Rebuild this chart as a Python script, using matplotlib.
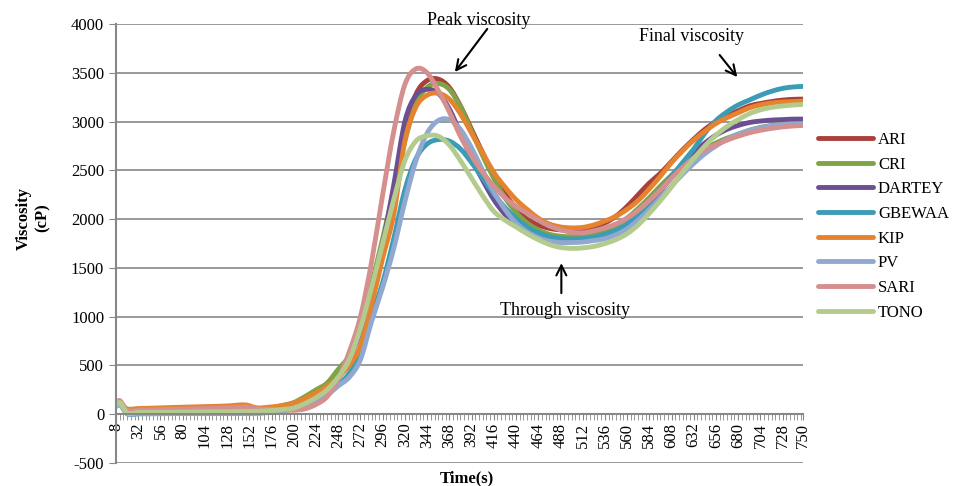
import numpy as np
import matplotlib
matplotlib.use('Agg')
import matplotlib.pyplot as plt
from matplotlib.path import Path
from matplotlib.patches import PathPatch
from matplotlib.lines import Line2D

# time axis (s) and viscosity readings (cP) per variety
times = [8, 12, 20, 32, 56, 80, 104, 128, 148, 160, 176, 188, 200, 212, 224, 236,
         248, 260, 272, 284, 296, 308, 320, 332, 344, 356, 368, 380, 392, 404, 416,
         428, 440, 452, 464, 476, 488, 500, 512, 524, 536, 548, 560, 572, 584, 596,
         608, 620, 632, 644, 656, 668, 680, 692, 704, 716, 728, 740, 750]

ari = [100, 120, 45, 50, 52, 55, 58, 62, 68, 60, 62, 75, 100, 150, 220, 300,
       420, 600, 880, 1280, 1700, 2300, 2900, 3280, 3420, 3435, 3350, 3160, 2920, 2680, 2450,
       2260, 2110, 2000, 1940, 1905, 1890, 1890, 1900, 1920, 1960, 2030, 2130, 2250, 2370, 2470,
       2590, 2710, 2820, 2920, 3000, 3060, 3110, 3160, 3185, 3205, 3220, 3228, 3230]

cri = [80, 110, 25, 28, 32, 36, 40, 45, 50, 52, 65, 90, 120, 180, 250, 320,
       460, 600, 850, 1330, 1800, 2300, 2800, 3180, 3350, 3390, 3330, 3150, 2900, 2650, 2420,
       2220, 2070, 1960, 1890, 1845, 1825, 1820, 1830, 1850, 1880, 1930, 2010, 2110, 2220, 2340,
       2450, 2560, 2650, 2720, 2780, 2830, 2870, 2910, 2940, 2960, 2975, 2985, 2990]

dartey = [90, 120, 10, 10, 12, 14, 16, 18, 20, 22, 30, 45, 70, 110, 170, 250,
          370, 560, 860, 1300, 1750, 2350, 3000, 3270, 3330, 3290, 3130, 2880, 2620, 2400, 2200,
          2050, 1940, 1860, 1810, 1780, 1770, 1770, 1775, 1790, 1820, 1870, 1940, 2040, 2160, 2290,
          2430, 2560, 2680, 2780, 2860, 2920, 2960, 2990, 3005, 3015, 3020, 3025, 3025]

gbewaa = [85, 110, 5, 5, 6, 7, 8, 9, 10, 12, 20, 35, 60, 100, 150, 210,
          300, 420, 620, 1000, 1350, 1800, 2300, 2620, 2770, 2815, 2800, 2720, 2580, 2420, 2260,
          2120, 2010, 1920, 1860, 1820, 1800, 1795, 1800, 1815, 1845, 1885, 1950, 2050, 2170, 2300,
          2440, 2580, 2720, 2880, 3010, 3100, 3170, 3220, 3270, 3310, 3340, 3355, 3360]

kip = [90, 110, 55, 58, 65, 72, 78, 85, 95, 65, 75, 90, 115, 160, 220, 285,
       380, 500, 700, 1120, 1600, 2050, 2800, 3150, 3270, 3290, 3230, 3080, 2880, 2680, 2480,
       2330, 2200, 2100, 2010, 1950, 1920, 1910, 1915, 1940, 1980, 2030, 2100, 2190, 2310, 2440,
       2580, 2700, 2810, 2900, 2980, 3040, 3090, 3140, 3170, 3190, 3200, 3205, 3210]

pv = [80, 100, 5, 5, 6, 7, 8, 9, 10, 12, 20, 35, 55, 90, 140, 195,
      290, 380, 560, 950, 1300, 1700, 2180, 2600, 2880, 3010, 3020, 2920, 2730, 2500, 2280,
      2100, 1960, 1870, 1810, 1775, 1760, 1760, 1765, 1780, 1800, 1840, 1900, 1990, 2100, 2220,
      2340, 2460, 2570, 2670, 2750, 2820, 2870, 2910, 2935, 2955, 2970, 2975, 2978]

sari = [110, 140, 40, 42, 48, 52, 58, 65, 72, 55, 50, 45, 40, 55, 100, 180,
        360, 640, 1000, 1560, 2250, 2900, 3380, 3540, 3500, 3320, 3100, 2850, 2650, 2480, 2340,
        2220, 2130, 2060, 1990, 1930, 1890, 1865, 1860, 1880, 1910, 1950, 2010, 2090, 2190, 2300,
        2420, 2530, 2630, 2710, 2760, 2810, 2850, 2885, 2910, 2930, 2945, 2955, 2960]

tono = [95, 120, 15, 18, 20, 22, 24, 26, 28, 30, 38, 48, 65, 110, 170, 250,
        380, 560, 880, 1300, 1750, 2200, 2600, 2800, 2855, 2850, 2760, 2600, 2420, 2240, 2080,
        1990, 1920, 1850, 1790, 1740, 1710, 1700, 1705, 1720, 1750, 1790, 1850, 1940, 2060, 2190,
        2330, 2480, 2620, 2750, 2860, 2950, 3020, 3080, 3120, 3145, 3160, 3170, 3175]

names = ['ARI', 'CRI', 'DARTEY', 'GBEWAA', 'KIP', 'PV', 'SARI', 'TONO']
series = [ari, cri, dartey, gbewaa, kip, pv, sari, tono]
colors = ['#A9403C', '#7FA447', '#6C4F92', '#3C9CB5', '#E5832F', '#91A8D0', '#D48F8E', '#B3CC8E']

tick_pos = list(range(8, 729, 24)) + [750]
tick_labels = [str(t) for t in tick_pos]


def smooth_path(x, y):
    # smoothed line like Excel: cubic bezier segments through the points
    x = np.asarray(x, float)
    y = np.asarray(y, float)
    n = len(x)
    m = np.zeros(n)
    m[1:-1] = (y[2:] - y[:-2]) / (x[2:] - x[:-2])
    m[0] = (y[1] - y[0]) / (x[1] - x[0])
    m[-1] = (y[-1] - y[-2]) / (x[-1] - x[-2])
    verts = [(x[0], y[0])]
    codes = [Path.MOVETO]
    for i in range(n - 1):
        h = x[i + 1] - x[i]
        verts += [(x[i] + h / 3, y[i] + m[i] * h / 3),
                  (x[i + 1] - h / 3, y[i + 1] - m[i + 1] * h / 3),
                  (x[i + 1], y[i + 1])]
        codes += [Path.CURVE4] * 3
    return Path(verts, codes)


plt.rcParams['font.family'] = ['Liberation Serif', 'DejaVu Serif']
plt.rcParams['axes.unicode_minus'] = False

fig = plt.figure(figsize=(9.59, 4.86), dpi=100)
ax = fig.add_axes([116 / 959, 1 - 463 / 486, (803 - 116) / 959, (463 - 24) / 486])

handles = []
for name, vals, c in zip(names, series, colors):
    ax.add_patch(PathPatch(smooth_path(times, vals), fill=False, edgecolor=c, lw=3.5,
                           capstyle='round', joinstyle='round'))
    handles.append(Line2D([], [], color=c, lw=3.5, solid_capstyle='round'))

ax.set_xlim(8, 750)
ax.set_ylim(-500, 4000)
ax.set_yticks(np.arange(-500, 4001, 500))
ax.yaxis.grid(True, color='#878787', lw=1.2)
ax.set_axisbelow(True)

for s in ['top', 'right']:
    ax.spines[s].set_visible(False)
ax.spines['bottom'].set_position(('data', 0))
ax.spines['bottom'].set_color('#878787')
ax.spines['bottom'].set_linewidth(1.5)
ax.spines['left'].set_color('#878787')
ax.spines['left'].set_linewidth(1.5)

ax.set_xticks(tick_pos)
ax.set_xticklabels(tick_labels, rotation=90, fontsize=12)
ax.set_xticks(list(range(8, 750, 4)) + [750], minor=True)
ax.tick_params(axis='x', which='both', direction='out', length=4, color='#878787', pad=2)
ax.tick_params(axis='y', direction='out', length=5, color='#878787', labelsize=12)

fig.text(33 / 959, 1 - 218 / 486, 'Viscosity\n(cP)', rotation=90, ha='center', va='center',
         fontsize=12, fontweight='bold', multialignment='center')
fig.text(467 / 959, 1 - 478 / 486, 'Time(s)', ha='center', va='center', fontsize=12,
         fontweight='bold')

arrow = dict(arrowstyle='->', lw=1.5, color='black', shrinkA=0, shrinkB=0,
             mutation_scale=18)
ax.text(400, 4040, 'Peak viscosity', ha='center', va='center', fontsize=13, clip_on=False)
ax.annotate('', xy=(374, 3508), xytext=(409, 3950), arrowprops=arrow, annotation_clip=False)
ax.text(630, 3867, 'Final viscosity', ha='center', va='center', fontsize=13)
ax.annotate('', xy=(679, 3456), xytext=(660, 3682), arrowprops=arrow)
ax.text(493, 1067, 'Through viscosity', ha='center', va='center', fontsize=13)
ax.annotate('', xy=(489, 1549), xytext=(489, 1241), arrowprops=arrow)

fig.legend(handles, names, loc='upper left', bbox_to_anchor=(818 / 959, 1 - 132 / 486),
           frameon=False, fontsize=12, handlelength=3.3, handletextpad=0.3,
           labelspacing=0.52, borderpad=0, borderaxespad=0)

plt.savefig('out.png', dpi=100)
